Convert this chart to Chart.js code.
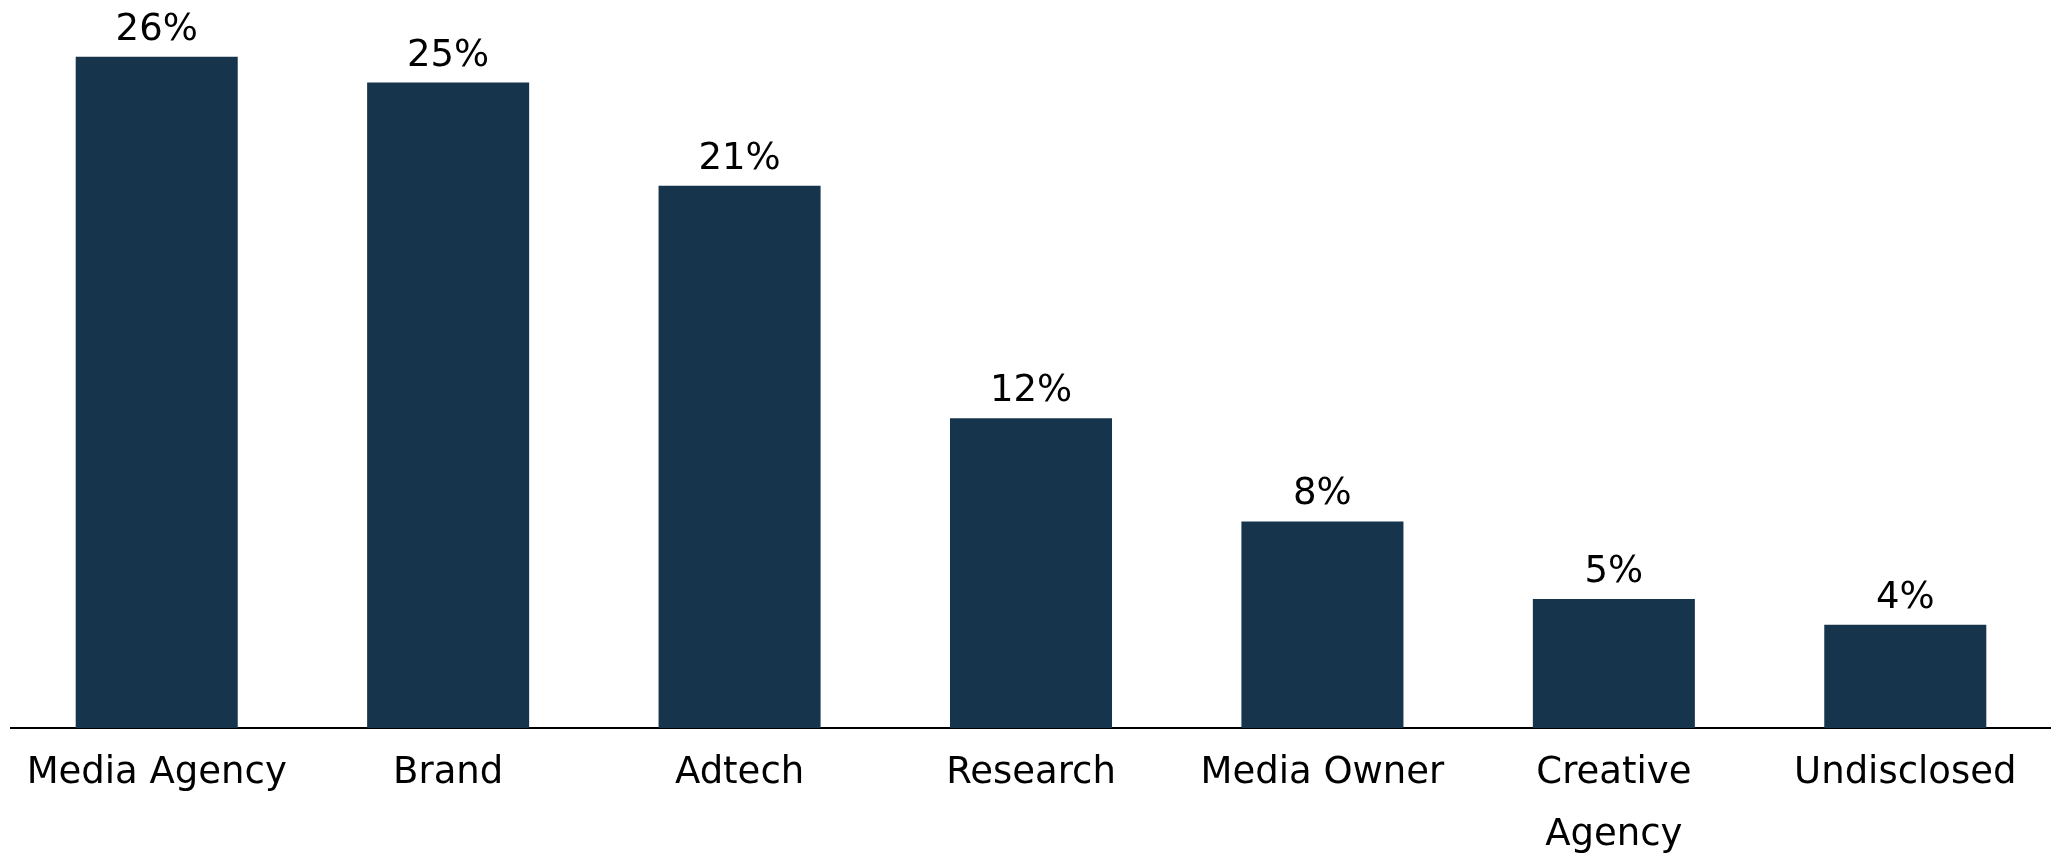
<!DOCTYPE html>
<html>
<head>
<meta charset="utf-8">
<title>Respondents by company type</title>
<script src="https://cdn.jsdelivr.net/npm/chart.js@4/dist/chart.umd.min.js"></script>
<style>
  html, body { margin: 0; padding: 0; background: #ffffff; }
  #wrap { width: 2051px; height: 857px; }
</style>
</head>
<body>
<div id="wrap"><canvas id="chart" width="2051" height="857"></canvas></div>
<script>
// Share of respondents by company type (%)
const categories = [
  'Media Agency',
  'Brand',
  'Adtech',
  'Research',
  'Media Owner',
  ['Creative', 'Agency'],
  'Undisclosed'
];
const shares = [26, 25, 21, 12, 8, 5, 4];
const yMax = 28.2;

const FONT = 'DejaVu Sans';
const BAR_COLOR = '#16344c';

// Writes each bar's value above it, centred on the bar.
const valueLabels = {
  id: 'valueLabels',
  afterDatasetsDraw(chart) {
    const { ctx } = chart;
    const meta = chart.getDatasetMeta(0);
    ctx.save();
    ctx.font = '37px "' + FONT + '"';
    ctx.fillStyle = '#000000';
    ctx.textAlign = 'center';
    ctx.textBaseline = 'alphabetic';
    meta.data.forEach((bar, i) => {
      ctx.fillText(shares[i] + '%', bar.x, bar.y - 17);
    });
    ctx.restore();
  }
};

new Chart(document.getElementById('chart'), {
  type: 'bar',
  data: {
    labels: categories,
    datasets: [{
      data: shares,
      backgroundColor: BAR_COLOR,
      borderWidth: 0,
      barPercentage: 0.556,
      categoryPercentage: 1.0
    }]
  },
  options: {
    responsive: false,
    animation: false,
    devicePixelRatio: 1,
    layout: { padding: { left: 11, right: 0, top: 0, bottom: 0 } },
    plugins: {
      legend: { display: false },
      tooltip: { enabled: false },
      title: { display: false }
    },
    scales: {
      x: {
        grid: { display: false, drawTicks: false },
        border: { display: true, color: '#000000', width: 2 },
        ticks: {
          color: '#000000',
          font: { family: FONT, size: 37, lineHeight: 1.676 },
          padding: 14.5,
          maxRotation: 0,
          minRotation: 0,
          autoSkip: false
        },
        afterFit(scale) { scale.height = 129; }
      },
      y: {
        display: false,
        min: 0,
        max: yMax
      }
    }
  },
  plugins: [valueLabels]
});
</script>
</body>
</html>
